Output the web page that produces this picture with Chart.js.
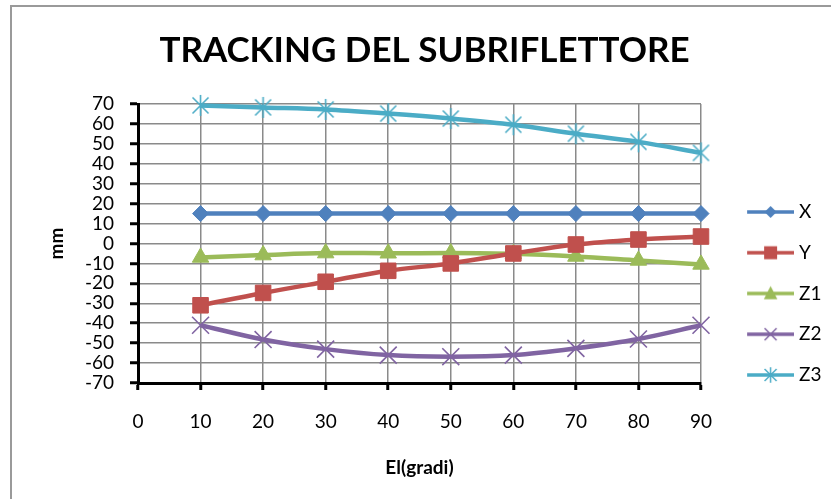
<!DOCTYPE html>
<html>
<head>
<meta charset="utf-8">
<script src="https://cdn.jsdelivr.net/npm/chart.js@4.4.1/dist/chart.umd.min.js"></script>
<style>
html,body{margin:0;padding:0;background:#ffffff;}
#wrap{width:831px;height:499px;position:relative;}
</style>
</head>
<body>
<div id="wrap"><canvas id="c" width="831" height="499"></canvas></div>
<script>
// ---- data ----
const elevationDeg = [10, 20, 30, 40, 50, 60, 70, 80, 90];
const xValues  = [15, 15, 15, 15, 15, 15, 15, 15, 15];
const yValues  = [-31, -24.8, -19.2, -13.7, -10, -5, -0.5, 2, 3.5];
const z1Values = [-7, -5.8, -4.8, -4.9, -4.8, -5.2, -6.5, -8.5, -10.5];
const z2Values = [-41, -48.2, -53, -56, -56.8, -56, -52.6, -47.9, -41];
const z3Values = [69.3, 68.3, 67.3, 65.2, 62.7, 59.6, 55.1, 51, 45.5];
const seriesNames = ['X', 'Y', 'Z1', 'Z2', 'Z3'];
const xTickValues = [0, 10, 20, 30, 40, 50, 60, 70, 80, 90];
const yTickValues = [-70, -60, -50, -40, -30, -20, -10, 0, 10, 20, 30, 40, 50, 60, 70];
const titleText = 'TRACKING DEL SUBRIFLETTORE';
const xAxisTitle = 'El(gradi)';
const yAxisTitle = 'mm';

// ---- styles ----
const FONT = 'Lato';
const colors = ['#4F81BD', '#C0504D', '#9BBB59', '#8064A2', '#4BACC6'];

function starCanvas(color, dx, dy, lw) {
  const s = Math.ceil(Math.max(dx, dy) * 2 + 4);
  const cv = document.createElement('canvas');
  cv.width = s; cv.height = s;
  const g = cv.getContext('2d');
  const c = s / 2;
  g.strokeStyle = color; g.lineWidth = lw;
  g.beginPath();
  g.moveTo(c - dx, c - dx); g.lineTo(c + dx, c + dx);
  g.moveTo(c + dx, c - dx); g.lineTo(c - dx, c + dx);
  g.moveTo(c, c - dy); g.lineTo(c, c + dy);
  g.stroke();
  return cv;
}

function drawMarker(g, kind, color, x, y, r) {
  g.fillStyle = color; g.strokeStyle = color;
  g.beginPath();
  if (kind === 'diamond') {
    g.moveTo(x, y - r); g.lineTo(x + r, y); g.lineTo(x, y + r); g.lineTo(x - r, y); g.closePath(); g.fill();
  } else if (kind === 'square') {
    g.rect(x - r, y - r, 2 * r, 2 * r); g.fill();
  } else if (kind === 'triangle') {
    g.moveTo(x, y - r); g.lineTo(x + r * 0.9, y + r * 0.75); g.lineTo(x - r * 0.9, y + r * 0.75); g.closePath(); g.fill();
  } else if (kind === 'cross') {
    g.lineWidth = 1.5;
    g.moveTo(x - r, y - r); g.lineTo(x + r, y + r); g.moveTo(x + r, y - r); g.lineTo(x - r, y + r); g.stroke();
  } else if (kind === 'star') {
    g.lineWidth = 1.5;
    g.moveTo(x - r, y - r); g.lineTo(x + r, y + r); g.moveTo(x + r, y - r); g.lineTo(x - r, y + r);
    g.moveTo(x, y - r * 1.3); g.lineTo(x, y + r * 1.3); g.stroke();
  }
}

const legendKinds = ['diamond', 'square', 'triangle', 'cross', 'star'];
const legendMarkerSize = [6, 6.5, 7.5, 6, 6];
const legendIcons = legendKinds.map((k, i) => {
  const cv = document.createElement('canvas');
  cv.width = 76; cv.height = 24;
  const g = cv.getContext('2d');
  g.strokeStyle = colors[i]; g.lineWidth = 3.5;
  g.beginPath(); g.moveTo(29, 12); g.lineTo(76, 12); g.stroke();
  drawMarker(g, k, colors[i], 52.5, 12, legendMarkerSize[i]);
  return cv;
});

const pointStyles = ['rectRot', 'rect', 'triangle', 'crossRot', starCanvas(colors[4], 8, 10.5, 1.6)];
const pointRadii = [8, 11, 9.5, 12, 10];
const pointBorderWidths = [1, 1, 1, 1.6, 1.6];

const seriesValues = [xValues, yValues, z1Values, z2Values, z3Values];

const datasets = seriesNames.map((name, i) => ({
  label: name,
  data: elevationDeg.map((e, j) => ({ x: e, y: seriesValues[i][j] })),
  borderColor: colors[i],
  backgroundColor: colors[i],
  borderWidth: 4.5,
  tension: 0.35,
  pointStyle: pointStyles[i],
  pointRadius: pointRadii[i],
  pointHoverRadius: pointRadii[i],
  pointBorderWidth: pointBorderWidths[i],
  pointBackgroundColor: colors[i],
  pointBorderColor: colors[i],
  clip: false
}));

const frame = {
  id: 'frame',
  beforeDraw(chart) {
    const g = chart.ctx;
    g.save();
    g.fillStyle = '#ffffff';
    g.fillRect(0, 0, chart.width, chart.height);
    g.strokeStyle = '#9a9a9a';
    g.lineWidth = 2;
    g.beginPath();
    g.moveTo(11, chart.height); g.lineTo(11, 6); g.lineTo(chart.width, 6);
    g.stroke();
    g.restore();
  }
};

const defaultGen = Chart.defaults.plugins.legend.labels.generateLabels;

new Chart(document.getElementById('c'), {
  type: 'line',
  data: { datasets },
  plugins: [frame],
  options: {
    responsive: false,
    animation: false,
    devicePixelRatio: 1,
    layout: { padding: { left: 18, right: 0, top: 0, bottom: 0 } },
    plugins: {
      tooltip: { enabled: false },
      title: {
        display: true,
        text: titleText,
        color: '#000',
        font: { family: FONT, size: 35, weight: 'bold' },
        padding: { top: 30, bottom: 32 }
      },
      legend: {
        display: true,
        position: 'right',
        align: 'center',
        maxWidth: 130,
        title: { display: true, text: '', font: { size: 10 }, padding: { top: 0, bottom: 76 } },
        labels: {
          usePointStyle: true,
          pointStyleWidth: 66.75,
          padding: 21.75,
          color: '#000',
          font: { family: FONT, size: 19 },
          generateLabels: (chart) => defaultGen(chart).map((l, i) => Object.assign(l, {
            text: l.text + '\u00a0\u00a0\u00a0\u00a0',
            pointStyle: legendIcons[i]
          }))
        }
      }
    },
    scales: {
      x: {
        type: 'linear',
        min: 0, max: 90,
        afterBuildTicks: (s) => { s.ticks = xTickValues.map(v => ({ value: v })); },
        afterFit: (s) => { s.height = 116; },
        grid: { color: '#8a8a8a', lineWidth: 1.5, drawTicks: true, tickLength: 7, tickColor: '#000', tickWidth: 3 },
        border: { display: true, color: '#000', width: 3 },
        ticks: { color: '#000', font: { family: FONT, size: 19 }, padding: 20, maxRotation: 0, autoSkip: false },
        title: { display: true, text: xAxisTitle, color: '#000', font: { family: FONT, size: 19, weight: 'bold' }, padding: { top: 0, bottom: 20 } }
      },
      y: {
        type: 'linear',
        min: -70, max: 70,
        afterBuildTicks: (s) => { s.ticks = yTickValues.map(v => ({ value: v })); },
        afterFit: (s) => { s.width = 120; },
        grid: { color: '#8a8a8a', lineWidth: 1.5, drawTicks: true, tickLength: 8, tickColor: '#000', tickWidth: 3 },
        border: { display: true, color: '#000', width: 3 },
        ticks: { color: '#000', font: { family: FONT, size: 19 }, padding: 16, autoSkip: false },
        title: { display: true, text: yAxisTitle, color: '#000', font: { family: FONT, size: 19, weight: 'bold' }, padding: { top: 27, bottom: 0 } }
      }
    }
  }
});
</script>
</body>
</html>
